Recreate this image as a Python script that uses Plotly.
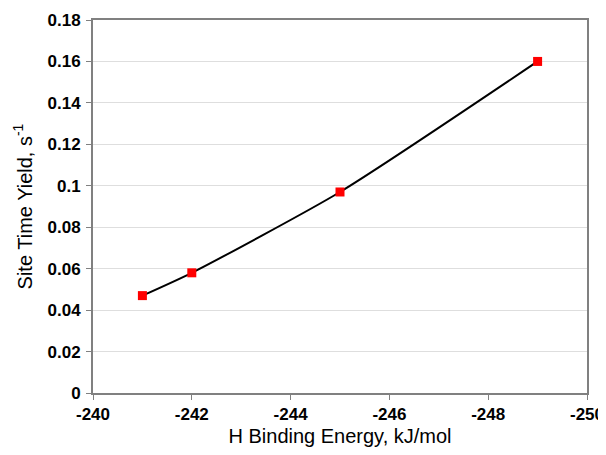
import plotly.graph_objects as go

binding_energy = [-241, -242, -245, -249]
site_time_yield = [0.047, 0.058, 0.097, 0.160]

x_ticks = [-240, -242, -244, -246, -248, -250]
y_ticks = [0, 0.02, 0.04, 0.06, 0.08, 0.1, 0.12, 0.14, 0.16, 0.18]
y_tick_text = ["0", "0.02", "0.04", "0.06", "0.08", "0.1", "0.12", "0.14", "0.16", "0.18"]

FONT = "Liberation Sans, Arial, sans-serif"

fig = go.Figure()
fig.add_trace(go.Scatter(
    x=binding_energy, y=site_time_yield,
    mode="lines",
    line=dict(color="black", width=2, shape="spline", smoothing=0.6),
    hoverinfo="skip", showlegend=False,
))
fig.add_trace(go.Scatter(
    x=binding_energy, y=site_time_yield,
    mode="markers",
    marker=dict(symbol="square", size=9, color="#ff0000"),
    showlegend=False,
))

# page body has an 8px default margin, so the figure is sized to fit the 606x455 window
fig.update_layout(
    width=598, height=447,
    margin=dict(l=85, r=19, t=12, b=62),
    paper_bgcolor="white", plot_bgcolor="white",
    font=dict(family=FONT, color="black"),
)
fig.update_xaxes(
    range=[-240, -250], tickvals=x_ticks, ticktext=[str(v) for v in x_ticks],
    tickfont=dict(size=17, family=FONT, weight="bold"),
    showgrid=False, zeroline=False, automargin=False,
    showline=True, linecolor="#808080", linewidth=2, mirror=True,
    ticks="outside", ticklen=5, tickcolor="#808080", tickwidth=1,
    title=dict(text="H Binding Energy, kJ/mol", font=dict(size=20, family=FONT), standoff=6),
)
fig.update_yaxes(
    range=[0, 0.18], tickvals=y_ticks, ticktext=y_tick_text,
    tickfont=dict(size=17, family=FONT, weight="bold"),
    ticklabelstandoff=2,
    showgrid=True, gridcolor="#dedede", gridwidth=1, zeroline=False, automargin=False,
    showline=True, linecolor="#808080", linewidth=2, mirror=True,
    ticks="outside", ticklen=5, tickcolor="#808080", tickwidth=1,
    title=dict(text="Site Time Yield, s<sup>-1</sup>", font=dict(size=20, family=FONT), standoff=10),
)

fig.write_html("out.html")
